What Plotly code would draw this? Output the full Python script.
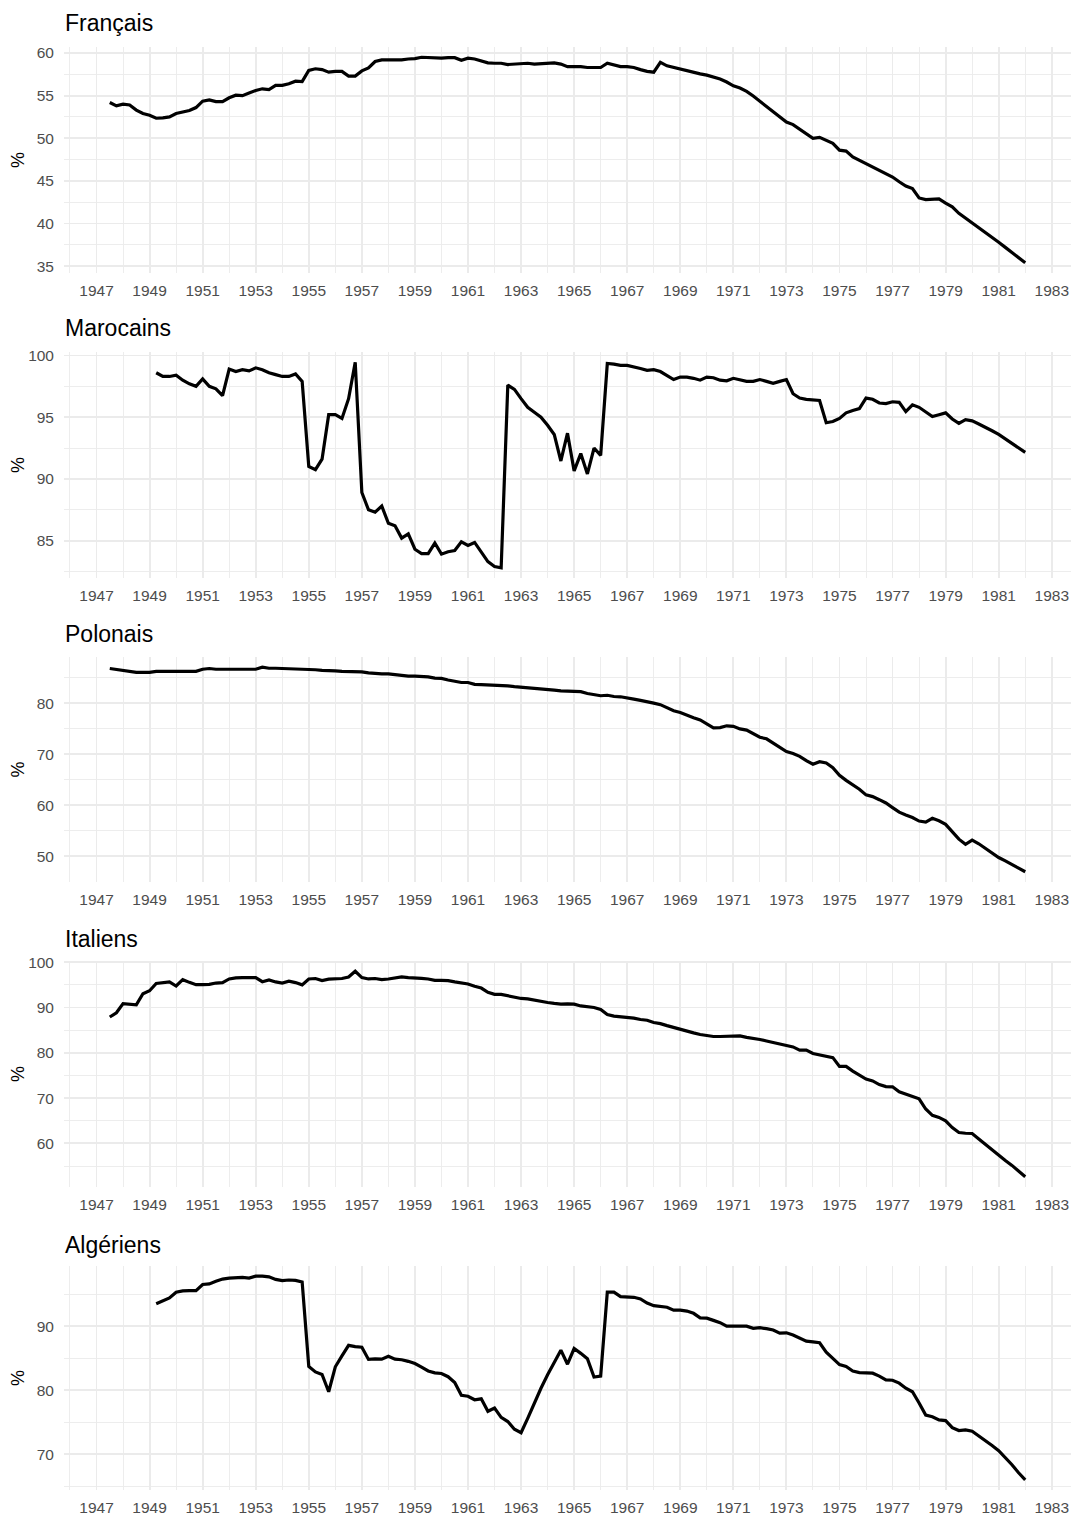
import plotly.graph_objects as go

# ---------------- data (quarterly) ----------------
start_long = 1947.5   # Français, Polonais, Italiens
start_short = 1949.25 # Marocains, Algériens

francais = [54.2, 53.8, 54.0, 53.9, 53.3, 52.9, 52.7, 52.35, 52.4, 52.5,
            52.9, 53.1, 53.25, 53.6,
            54.35, 54.5, 54.3, 54.3,
            54.75, 55.05, 55.0, 55.3,
            55.6, 55.8, 55.7, 56.2,
            56.2, 56.4, 56.7, 56.65,
            57.95, 58.15, 58.05, 57.75,
            57.85, 57.85, 57.3, 57.3,
            57.9, 58.25, 59.0, 59.2,
            59.2, 59.2, 59.2, 59.3,
            59.35, 59.5, 59.45, 59.4,
            59.4, 59.45, 59.45, 59.15,
            59.4, 59.3, 59.1, 58.85,
            58.8, 58.8, 58.65, 58.7,
            58.75, 58.8, 58.7, 58.75,
            58.8, 58.85, 58.7, 58.4,
            58.4, 58.4, 58.3, 58.3,
            58.3, 58.8, 58.6, 58.4,
            58.4, 58.3, 58.05, 57.85,
            57.75, 58.9, 58.5, 58.3,
            58.1, 57.95, 57.7, 57.55,
            57.4, 57.2, 56.95, 56.6,
            56.15, 55.9, 55.5, 54.95,
            54.35, 53.8, 53.1, 52.5,
            51.9, 51.6, 51.1, 50.6,
            50.0, 50.1, 49.8, 49.4,
            48.6, 48.5, 47.8, 47.4,
            47.0, 46.65, 46.25, 45.9,
            45.45, 44.9, 44.4, 44.1,
            43.0, 42.8, 42.85, 42.9,
            42.4, 41.95, 41.2, 40.65,
            40.0, 39.45, 38.95, 38.4,
            37.8, 37.2, 36.6, 35.95,
            35.4]

marocains = [98.6, 98.3, 98.3,
             98.4, 98.0, 97.7, 97.5,
             98.1, 97.5, 97.3, 96.75,
             98.9, 98.7, 98.85, 98.75,
             99.0, 98.85, 98.6, 98.45,
             98.3, 98.3, 98.5, 97.9,
             91.0, 90.75, 91.6, 95.2,
             95.2, 94.9, 96.5, 99.45,
             88.9, 87.5, 87.3, 87.8,
             86.4, 86.2, 85.2, 85.55,
             84.3, 83.95, 83.95, 84.8,
             83.9, 84.1, 84.2, 84.9,
             84.6, 84.85, 84.1, 83.3,
             82.9, 82.8, 97.6, 97.25,
             96.5, 95.8, 95.4, 95.0,
             94.35, 93.6, 91.45, 93.7,
             90.65, 92.05, 90.4, 92.5,
             91.9, 99.35, 99.3, 99.2,
             99.2, 99.1, 98.95, 98.8,
             98.85, 98.7, 98.4, 98.05,
             98.25, 98.25, 98.15, 98.0,
             98.25, 98.2, 98.0, 97.95,
             98.15, 98.05, 97.9, 97.9,
             98.05, 97.9, 97.75, 97.9,
             98.05, 96.9, 96.55, 96.45,
             96.4, 96.35, 94.55, 94.65,
             94.9, 95.35, 95.55, 95.7,
             96.55, 96.45, 96.15, 96.1,
             96.25, 96.2, 95.45, 96.0,
             95.8, 95.45, 95.05, 95.2,
             95.35, 94.85, 94.5, 94.8,
             94.7, 94.45, 94.2, 93.9,
             93.6, 93.25, 92.9, 92.5,
             92.15]

polonais = [86.85, 86.65,
            86.5, 86.4, 86.1, 86.1,
            86.1, 86.3, 86.3, 86.25,
            86.3, 86.2, 86.25, 86.3,
            86.7, 86.85, 86.7, 86.7,
            86.75, 86.75, 86.7, 86.75,
            86.7, 87.1, 86.9, 86.9,
            86.9, 86.85, 86.75, 86.7,
            86.7, 86.6, 86.5, 86.5,
            86.4, 86.3, 86.3, 86.25,
            86.2, 86.0, 85.85, 85.8,
            85.8, 85.65, 85.45, 85.35,
            85.35, 85.35, 85.2, 84.95,
            84.9, 84.6, 84.3, 84.1,
            84.1, 83.75, 83.7, 83.65,
            83.6, 83.6, 83.45, 83.3,
            83.2, 83.1, 83.05, 82.9,
            82.7, 82.6, 82.45, 82.4,
            82.3, 82.3, 81.95, 81.75,
            81.5, 81.6, 81.35, 81.3,
            81.15, 80.85, 80.6, 80.25,
            80.05, 79.75, 79.1, 78.55,
            78.2, 77.65, 77.2, 76.75,
            75.95, 75.2, 75.25, 75.6,
            75.5, 75.0, 74.75, 74.1,
            73.35, 73.05, 72.25, 71.35,
            70.55, 70.15, 69.6, 68.75,
            68.05, 68.55, 68.3, 67.4,
            65.9, 64.9, 64.1, 63.15,
            62.05, 61.7, 61.1, 60.45,
            59.55, 58.65, 58.1, 57.6,
            56.9, 56.7, 57.45, 56.95,
            56.25, 54.9, 53.35, 52.35,
            53.15, 52.45, 51.6, 50.65,
            49.75, 49.1, 48.45, 47.65,
            46.95]

italiens = [87.9, 88.85,
            90.85, 90.8, 90.6, 93.05,
            93.7, 95.3, 95.5, 95.65,
            94.75, 96.15, 95.55, 95.05,
            95.05, 95.1, 95.4, 95.5,
            96.3, 96.55, 96.6, 96.55,
            96.6, 95.7, 96.1, 95.65,
            95.4, 95.8, 95.5, 95.0,
            96.3, 96.4, 95.95, 96.25,
            96.4, 96.4, 96.75, 98.0,
            96.6, 96.3, 96.4, 96.15,
            96.3, 96.55, 96.75, 96.6,
            96.6, 96.45, 96.3, 96.0,
            96.0, 95.95, 95.65, 95.35,
            95.2, 94.7, 94.3, 93.35,
            92.9, 92.9, 92.55, 92.25,
            92.0, 91.9, 91.6, 91.4,
            91.1, 90.9, 90.75, 90.8,
            90.75, 90.35, 90.2, 90.0,
            89.55, 88.45, 88.1, 87.95,
            87.85, 87.65, 87.35, 87.2,
            86.7, 86.45, 86.0, 85.6,
            85.15, 84.65, 84.4, 84.05,
            83.75, 83.6, 83.6, 83.6,
            83.7, 83.75, 83.4, 83.25,
            82.95, 82.6, 82.3, 82.0,
            81.6, 81.3, 80.6, 80.6,
            79.85, 79.55, 79.25, 78.95,
            77.0, 77.0, 75.95, 75.0,
            74.2, 73.8, 73.0, 72.55,
            72.5, 71.4, 70.9, 70.45,
            69.85, 67.6, 66.2, 65.75,
            65.0, 63.5, 62.4, 62.25,
            62.2, 61.0, 59.8, 58.45,
            57.3, 56.25, 55.15, 53.9,
            52.65]

algeriens = [93.5, 93.9, 94.4,
             95.3, 95.5, 95.55, 95.55,
             96.5, 96.6, 97.0, 97.35,
             97.5, 97.6, 97.6, 97.5,
             97.8, 97.8, 97.7, 97.3,
             97.1, 97.2, 97.15, 96.9,
             83.7, 82.85, 82.45, 79.75,
             83.65, 85.35, 87.0, 86.8,
             86.7, 84.8, 84.9, 84.85,
             85.3, 84.85, 84.75, 84.5,
             84.15, 83.6, 83.0, 82.7,
             82.6, 82.1, 81.2, 79.2,
             79.05, 78.5, 78.65, 76.7,
             77.2, 75.75, 75.1, 73.9,
             73.35, 75.6, 78.0, 80.3,
             82.4, 84.4, 86.25, 84.05,
             86.5, 85.75, 84.9, 82.05,
             82.2, 95.3, 95.3, 94.6,
             94.6, 94.5, 94.25, 93.6,
             93.2, 93.1, 92.95, 92.5,
             92.5, 92.35, 92.0, 91.3,
             91.25, 90.9, 90.55, 90.0,
             90.0, 90.1, 90.0, 89.65,
             89.75, 89.6, 89.4, 88.9,
             88.95, 88.6, 88.15, 87.65,
             87.55, 87.4, 85.95, 84.95,
             84.0, 83.7, 83.0, 82.75,
             82.65, 82.65, 82.2, 81.6,
             81.55, 81.1, 80.3, 79.75,
             78.0, 76.1, 75.85, 75.35,
             75.25, 74.15, 73.7, 73.8,
             73.6, 72.9, 72.1, 71.35,
             70.55, 69.5, 68.35, 67.1,
             66.0]

panel_titles = ["Français", "Marocains", "Polonais", "Italiens", "Algériens"]
x_ticks = list(range(1947, 1984, 2))
x_minor = list(range(1946, 1984, 2))
y_ticks = [[35, 40, 45, 50, 55, 60],
           [85, 90, 95, 100],
           [50, 60, 70, 80],
           [60, 70, 80, 90, 100],
           [70, 80, 90]]
y_minor = [[37.5, 42.5, 47.5, 52.5, 57.5],
           [82.5, 87.5, 92.5, 97.5],
           [45, 55, 65, 75, 85],
           [55, 65, 75, 85, 95],
           [65, 75, 85, 95]]

series = [(francais, start_long), (marocains, start_short), (polonais, start_long),
          (italiens, start_long), (algeriens, start_short)]

# ---------------- layout geometry (pixels) ----------------
W, H = 1072, 1517
panel_top = [47, 352, 657, 961, 1266]
panel_bot = [273, 578, 882, 1187, 1490]
title_y = [23, 328, 634, 939, 1245]
x_left, x_right = 64, 1071

FONT = "Liberation Sans, Arial, Helvetica, sans-serif"
GRID = "#EBEBEB"
TICKC = "#4D4D4D"

fig = go.Figure()

x_lo, x_hi = 1947.5, 1982.0
xpad = (x_hi - x_lo) * 0.05

for i, (vals, st) in enumerate(series):
    xs = [st + 0.25 * k for k in range(len(vals))]
    n = i + 1
    xa = "x" if n == 1 else f"x{n}"
    ya = "y" if n == 1 else f"y{n}"
    fig.add_trace(go.Scatter(x=xs, y=vals, mode="lines",
                             line=dict(color="black", width=3.2),
                             xaxis=xa, yaxis=ya, showlegend=False,
                             hoverinfo="skip"))
    lo, hi = min(vals), max(vals)
    pad = (hi - lo) * 0.05
    xkey = "xaxis" if n == 1 else f"xaxis{n}"
    ykey = "yaxis" if n == 1 else f"yaxis{n}"
    fig.update_layout({
        xkey: dict(domain=[x_left / W, x_right / W], anchor=ya,
                   range=[x_lo - xpad, x_hi + xpad],
                   tickmode="array", tickvals=x_ticks,
                   ticktext=[str(v) for v in x_ticks],
                   showgrid=True, gridcolor=GRID, gridwidth=1.9,
                   zeroline=False, showline=False, ticks="",
                   ticklabelstandoff=6,
                   tickfont=dict(family=FONT, size=15.5, color=TICKC),
                   minor=dict(tickmode="array", tickvals=x_minor,
                              showgrid=True, gridcolor=GRID, gridwidth=0.9),
                   automargin=False, fixedrange=True),
        ykey: dict(domain=[1 - panel_bot[i] / H, 1 - panel_top[i] / H], anchor=xa,
                   range=[lo - pad, hi + pad],
                   tickmode="array", tickvals=y_ticks[i],
                   ticktext=[str(v) for v in y_ticks[i]],
                   showgrid=True, gridcolor=GRID, gridwidth=1.9,
                   zeroline=False, showline=False, ticks="",
                   ticklabelstandoff=9,
                   tickfont=dict(family=FONT, size=15.5, color=TICKC),
                   minor=dict(tickmode="array", tickvals=y_minor[i],
                              showgrid=True, gridcolor=GRID, gridwidth=0.9),
                   automargin=False, fixedrange=True),
    })
    fig.add_annotation(text=panel_titles[i], xref="paper", yref="paper",
                       x=63 / W, y=1 - title_y[i] / H, xanchor="left", yanchor="middle",
                       showarrow=False, font=dict(family=FONT, size=23, color="black"))
    fig.add_annotation(text="%", xref="paper", yref="paper",
                       x=18 / W, y=1 - (panel_top[i] + panel_bot[i]) / 2 / H,
                       xanchor="center", yanchor="middle", textangle=-90,
                       showarrow=False, font=dict(family=FONT, size=18, color="black"))

fig.update_layout(width=W, height=H, margin=dict(l=0, r=0, t=0, b=0),
                  paper_bgcolor="white", plot_bgcolor="white",
                  font=dict(family=FONT))

fig.write_html("out.html",
               config={"displayModeBar": False, "staticPlot": True},
               post_script="document.body.style.margin='0px';document.body.style.overflow='hidden';")
